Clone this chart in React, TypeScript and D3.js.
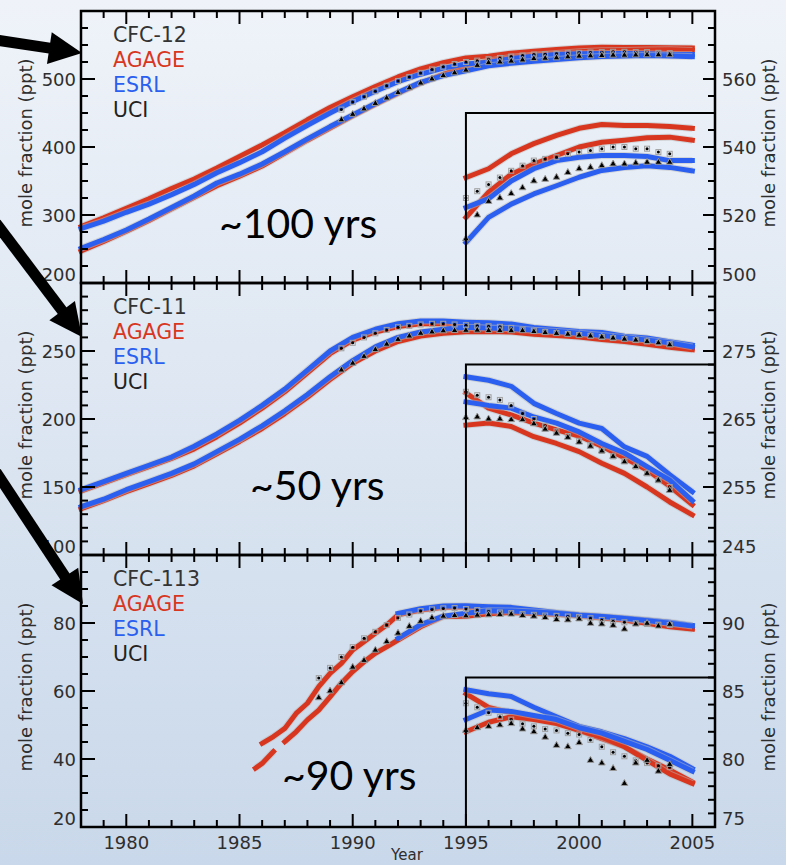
import React from "react";
import * as d3 from "d3";

// ---------------- DATA ----------------
const compoundNames = ["CFC-12", "CFC-11", "CFC-113"];
const networkNames = ["AGAGE", "ESRL", "UCI"];
const lifetimeLabels = ["~100 yrs", "~50 yrs", "~90 yrs"];
const xTickLabels = [1980, 1985, 1990, 1995, 2000, 2005];

// CFC-12 (ppt), AGAGE / ESRL, northern (NH) and southern (SH) records
const cfc12Years = [1978, 1979, 1980, 1981, 1982, 1983, 1984, 1985, 1986, 1987, 1988, 1989, 1990, 1991, 1992, 1993, 1994, 1995, 1996, 1997, 1998, 1999, 2000, 2001, 2002, 2003, 2004, 2005];
const cfc12AgageNH = [283, 296, 310, 324, 339, 353, 369, 386, 403, 421, 440, 458, 474, 489, 503, 515, 524, 531, 533.6, 538, 541, 543.4, 545.5, 546.6, 546.3, 546.3, 546, 545.5];
const cfc12AgageSH = [247, 261, 276, 292, 309, 326, 343, 357, 372, 391, 410, 428, 446, 463, 479, 494, 507, 519.3, 526.7, 532, 535, 537.5, 540, 541.4, 542, 542.7, 542.9, 542];
const cfc12EsrlNH = [280, 291, 304, 316, 330, 345, 362, 377, 393, 413, 432, 450, 467, 482, 496, 507, 516, 522.2, 524.8, 530, 533.6, 536, 537, 537.5, 537.5, 537.2, 536, 536];
const cfc12EsrlSH = [251, 264, 278, 294, 311, 328, 347, 360, 375, 393, 412, 430, 447, 464, 480, 495, 505, 511.9, 519.3, 523.2, 526.2, 528.6, 531.1, 533.1, 534, 534.5, 534, 533];
const cfc12UciYears = [1989.5, 1990, 1990.5, 1991, 1991.5, 1992, 1992.5, 1993, 1993.5, 1994, 1994.5, 1995, 1995.5, 1996, 1996.5, 1997, 1997.5, 1998, 1998.5, 1999, 1999.5, 2000, 2000.5, 2001, 2001.5, 2002, 2002.5, 2003, 2003.5, 2004];
const cfc12UciNH = [455, 466, 474, 482, 490, 497, 503, 509, 514, 518, 522, 525, 527, 529, 531, 533, 534.5, 536, 536.5, 537, 538, 538.5, 539, 539.5, 540, 540, 539.5, 539.5, 538.5, 538];
const cfc12UciSH = [440, 448, 456, 464, 472, 480, 487, 494, 500, 505, 509, 513, 520, 524, 525, 526.3, 528, 530, 530.5, 531.1, 532.5, 533.6, 534, 534.5, 535, 535, 535.3, 535.5, 535.5, 535.5];

// CFC-11 (ppt)
const cfc11Years = [1978, 1979, 1980, 1981, 1982, 1983, 1984, 1985, 1986, 1987, 1988, 1989, 1990, 1991, 1992, 1993, 1994, 1995, 1996, 1997, 1998, 1999, 2000, 2001, 2002, 2003, 2004, 2005];
const cfc11AgageNH = [147, 153, 159, 165, 171, 178, 187, 197, 208, 220, 234, 248, 258, 264, 268, 270, 270, 268.8, 266.6, 265.6, 264.4, 263.4, 262.5, 261, 259.3, 257.5, 255.1, 252.4];
const cfc11AgageSH = [134, 140, 146.5, 152.5, 158.5, 165.5, 174.5, 183.5, 193, 204, 216, 229, 241, 250, 257, 261, 263, 264.1, 264.4, 263.9, 262.4, 261.4, 260.2, 258.5, 257, 255, 252.8, 250.9];
const cfc11EsrlNH = [148, 154, 160, 166, 172, 180, 189, 199, 210, 222, 236, 250, 260, 266, 270, 272, 272, 271.2, 270.7, 269.8, 267.3, 265.8, 264.4, 263.6, 260.9, 259.5, 256.8, 254.3];
const cfc11EsrlSH = [135.5, 141, 148, 154, 160, 167, 176, 185, 195, 206, 218, 231, 243, 253, 260, 264, 266, 267.5, 267, 266.6, 265.3, 264.4, 263.1, 261.4, 260, 258, 256, 253];
const cfc11UciYears = [1989.5, 1990, 1990.5, 1991, 1991.5, 1992, 1992.5, 1993, 1993.5, 1994, 1994.5, 1995, 1995.5, 1996, 1996.5, 1997, 1997.5, 1998, 1998.5, 1999, 1999.5, 2000, 2000.5, 2001, 2001.5, 2002, 2002.5, 2003, 2003.5, 2004];
const cfc11UciNH = [252, 256, 260, 263, 265.5, 267.5, 268.5, 269.5, 270, 270, 269.5, 269, 268.5, 268.2, 267.8, 267, 265.8, 265, 264, 263.2, 262.5, 261.8, 261.2, 260.3, 259.5, 258.8, 258, 257, 256, 255];
const cfc11UciSH = [236, 241, 246, 251, 255, 258.5, 261, 263, 264, 264.8, 265, 265.2, 265.3, 265, 265, 264.9, 264.9, 264.3, 263.5, 262.9, 262.3, 261.6, 261, 260.3, 259.5, 258.7, 258, 257, 256, 254.5];

// CFC-113 (ppt)
const cfc113Years = [1985.7, 1986, 1986.5, 1986.75, 1987, 1987.5, 1988, 1988.5, 1989, 1989.5, 1990, 1990.5, 1991, 1991.5, 1992, 1993, 1994, 1995, 1996, 1997, 1998, 1999, 2000, 2001, 2002, 2003, 2004, 2005];
const cfc113AgageNH = [null, 44.6, 46.6, 47.8, 49, 53.4, 56.4, 61.3, 65.2, 68.1, 72.1, 74.5, 77, 79.4, 82.4, 83.8, 84.6, 84.8, 83.8, 83.4, 83.1, 82.7, 82.1, 81.5, 80.9, 80, 79.2, 78.3];
const cfc113AgageSH = [37.3, 38.7, 42.2, null, 45.1, 48, 51.5, 54.4, 58.3, 62.3, 65.7, 68.6, 71.1, 73, 75, 78.9, 81.9, 82, 82.7, 83.1, 82.9, 82.6, 82.1, 81.6, 80.9, 79.9, 78.9, 78.2];
const cfc113EsrlNH = [null, null, null, null, null, null, null, null, null, null, null, null, null, null, 82.8, 84.2, 85, 85.1, 84.8, 84.6, 83.8, 83.1, 82.4, 82, 81.5, 80.9, 80.2, 79.3];
const cfc113EsrlSH = [null, null, null, null, null, null, null, null, null, null, null, null, null, null, 75.5, 79.5, 82, 82.9, 83.6, 83.5, 83.2, 82.9, 82.3, 81.9, 81.3, 80.7, 79.9, 79.1];
const cfc113UciYears = [1988.5, 1989, 1989.5, 1990, 1990.5, 1991, 1991.5, 1992, 1992.5, 1993, 1993.5, 1994, 1994.5, 1995, 1995.5, 1996, 1996.5, 1997, 1997.5, 1998, 1998.5, 1999, 1999.5, 2000, 2000.5, 2001, 2001.5, 2002, 2002.5, 2003, 2003.5, 2004];
const cfc113UciNH = [63.8, 66.8, 70, 72.9, 75.5, 77.4, 79.4, 81.5, 82.5, 83.5, 84, 84.3, 84.4, 84.1, 83.8, 83.4, 83.1, 82.9, 82.6, 82.4, 82.2, 82.1, 81.9, 81.8, 81.4, 80.9, 80.5, 80.2, 79.9, 79.7, 79.5, 79.4];
const cfc113UciSH = [58, 60, 62.4, 67, 69, 72, 74.5, 77, 79, 80.5, 81.5, 82, 82.2, 82.1, 82.3, 82.4, 82.5, 82.6, 82.2, 82, 81.6, 81, 80.9, 81.2, 79.9, 79.7, 79.3, 78.2, 79.7, 79.9, 79.1, 79.6];

// axis ticks
const cfc12LeftTicks = [200, 300, 400, 500];
const cfc12RightTicks = [500, 520, 540, 560];
const cfc11LeftTicks = [100, 150, 200, 250];
const cfc11RightTicks = [245, 255, 265, 275];
const cfc113LeftTicks = [20, 40, 60, 80];
const cfc113RightTicks = [75, 80, 85, 90];

// ---------------- STYLE / LAYOUT ----------------
const W = 786;
const H = 865;
const X0 = 81;
const X1 = 715;
const RED = "#d8361f";
const BLUE = "#2b5ff0";
const TXT = "#2e2e2e";
const FONT = "'DejaVu Sans', Verdana, sans-serif";
const INSET_START = 1995;

const x = d3.scaleLinear().domain([1978, 2006]).range([X0, X1]);

const panels = [
  {
    name: compoundNames[0], life: lifetimeLabels[0], lifePos: [219, 238],
    top: 11, bottom: 283, left: [200, 600], right: [500, 580],
    leftTicks: cfc12LeftTicks, leftMinor: 25, rightTicks: cfc12RightTicks, rightMinor: 5, insetTop: 550,
    years: cfc12Years, agNH: cfc12AgageNH, agSH: cfc12AgageSH, esNH: cfc12EsrlNH, esSH: cfc12EsrlSH,
    uYears: cfc12UciYears, uNH: cfc12UciNH, uSH: cfc12UciSH,
  },
  {
    name: compoundNames[1], life: lifetimeLabels[1], lifePos: [250, 500],
    top: 283, bottom: 555, left: [100, 300], right: [245, 285],
    leftTicks: cfc11LeftTicks, leftMinor: 10, rightTicks: cfc11RightTicks, rightMinor: 2, insetTop: 273,
    years: cfc11Years, agNH: cfc11AgageNH, agSH: cfc11AgageSH, esNH: cfc11EsrlNH, esSH: cfc11EsrlSH,
    uYears: cfc11UciYears, uNH: cfc11UciNH, uSH: cfc11UciSH,
  },
  {
    name: compoundNames[2], life: lifetimeLabels[2], lifePos: [282, 790],
    top: 555, bottom: 827, left: [20, 100], right: [75, 95],
    leftTicks: cfc113LeftTicks, leftMinor: 5, rightTicks: cfc113RightTicks, rightMinor: 1, insetTop: 86,
    years: cfc113Years, agNH: cfc113AgageNH, agSH: cfc113AgageSH, esNH: cfc113EsrlNH, esSH: cfc113EsrlSH,
    uYears: cfc113UciYears, uNH: cfc113UciNH, uSH: cfc113UciSH,
  },
];

type Pt = { t: number; v: number | null };

function zip(years: number[], vals: (number | null)[], fromYear?: number): Pt[] {
  return years
    .map((t, i) => ({ t, v: vals[i] }))
    .filter((d) => (fromYear === undefined ? true : d.t >= fromYear - 1e-9));
}

function Series({ pts, y, color }: { pts: Pt[]; y: d3.ScaleLinear<number, number>; color: string }) {
  const line = d3
    .line<Pt>()
    .defined((d) => d.v !== null && d.v !== undefined)
    .x((d) => x(d.t))
    .y((d) => y(d.v as number));
  return (
    <g>
      <path d={line(pts) || ""} fill="none" stroke="#b9b9b9" strokeOpacity={0.5} strokeWidth={7} strokeLinejoin="round" />
      <path d={line(pts) || ""} fill="none" stroke={color} strokeWidth={5} strokeLinejoin="round" strokeLinecap="square" />
    </g>
  );
}

function Uci({ pts, y, kind }: { pts: Pt[]; y: d3.ScaleLinear<number, number>; kind: "dot" | "tri" }) {
  const tri = d3.symbol().type(d3.symbolTriangle).size(20)() || "";
  return (
    <g>
      {pts.map((d, i) => {
        const cx = x(d.t);
        const cy = y(d.v as number);
        return kind === "tri" ? (
          <path key={i} d={tri} transform={`translate(${cx},${cy})`} fill="#000" stroke="#9a9a9a" strokeWidth={1} />
        ) : (
          <g key={i}>
            <rect x={cx - 2.5} y={cy - 2.5} width={5} height={5} fill="none" stroke="#a0a0a0" strokeWidth={1} />
            <circle cx={cx} cy={cy} r={1.5} fill="#000" />
          </g>
        );
      })}
    </g>
  );
}

function Panel({ p }: { p: (typeof panels)[number] }) {
  const yL = d3.scaleLinear().domain(p.left).range([p.bottom, p.top]);
  const yR = d3.scaleLinear().domain(p.right).range([p.bottom, p.top]);
  const leftMinor = d3.range(p.left[0], p.left[1] + 1e-6, p.leftMinor);
  const rightMinor = d3.range(p.right[0], p.right[1] + 1e-6, p.rightMinor);
  const yearTicks = d3.range(1979, 2006, 1);
  const cy = (p.top + p.bottom) / 2 - 4;

  const mains = [
    { vals: p.agNH, c: RED }, { vals: p.agSH, c: RED },
    { vals: p.esNH, c: BLUE }, { vals: p.esSH, c: BLUE },
  ];

  return (
    <g>
      {/* main series, left axis */}
      {mains.map((m, i) => (
        <Series key={"m" + i} pts={zip(p.years, m.vals)} y={yL} color={m.c} />
      ))}
      <Uci pts={zip(p.uYears, p.uNH)} y={yL} kind="dot" />
      <Uci pts={zip(p.uYears, p.uSH)} y={yL} kind="tri" />

      {/* inset series, right axis */}
      {mains.map((m, i) => (
        <Series key={"i" + i} pts={zip(p.years, m.vals, INSET_START)} y={yR} color={m.c} />
      ))}
      <Uci pts={zip(p.uYears, p.uNH, INSET_START)} y={yR} kind="dot" />
      <Uci pts={zip(p.uYears, p.uSH, INSET_START)} y={yR} kind="tri" />

      {/* inset frame */}
      <path
        d={`M${x(INSET_START)},${p.bottom} V${yR(p.insetTop)} H${X1}`}
        fill="none"
        stroke="#000"
        strokeWidth={2}
      />

      {/* left ticks */}
      {leftMinor.map((v) => {
        const major = p.leftTicks.includes(v);
        return <line key={"lt" + v} x1={X0} x2={X0 + (major ? 14 : 7)} y1={yL(v)} y2={yL(v)} stroke="#000" strokeWidth={2} />;
      })}
      {p.leftTicks.map((v, i) => (
        <text key={"ll" + v} x={76} y={yL(v) - (i === 0 ? 9 : 0)} textAnchor="end" dominantBaseline="central" fontFamily={FONT} fontSize={18} fill={TXT}>
          {v}
        </text>
      ))}
      {/* right ticks */}
      {rightMinor.map((v) => {
        const major = p.rightTicks.includes(v);
        return <line key={"rt" + v} x1={X1} x2={X1 - (major ? 12 : 7)} y1={yR(v)} y2={yR(v)} stroke="#000" strokeWidth={2} />;
      })}
      {p.rightTicks.map((v, i) => (
        <text key={"rl" + v} x={722} y={yR(v) - (i === 0 ? 9 : 0)} textAnchor="start" dominantBaseline="central" fontFamily={FONT} fontSize={18} fill={TXT}>
          {v}
        </text>
      ))}
      {/* year ticks, top and bottom */}
      {yearTicks.map((t) => {
        const major = t % 5 === 0;
        const len = major ? 13 : 7;
        return (
          <g key={"yt" + t}>
            <line x1={x(t)} x2={x(t)} y1={p.top} y2={p.top + len} stroke="#000" strokeWidth={2} />
            <line x1={x(t)} x2={x(t)} y1={p.bottom} y2={p.bottom - len} stroke="#000" strokeWidth={2} />
          </g>
        );
      })}

      {/* frame */}
      <rect x={X0} y={p.top} width={X1 - X0} height={p.bottom - p.top} fill="none" stroke="#000" strokeWidth={2.5} />

      {/* legend */}
      <text x={113} y={p.top + 30.5} fontFamily={FONT} fontSize={20.5} fill="#333">{p.name}</text>
      <text x={113} y={p.top + 55.5} fontFamily={FONT} fontSize={20.5} fill={RED}>{networkNames[0]}</text>
      <text x={113} y={p.top + 80.5} fontFamily={FONT} fontSize={20.5} fill={BLUE}>{networkNames[1]}</text>
      <text x={113} y={p.top + 105.5} fontFamily={FONT} fontSize={20.5} fill="#222">{networkNames[2]}</text>

      {/* axis titles */}
      <text x={26} y={cy} transform={`rotate(-90,26,${cy})`} textAnchor="middle" dominantBaseline="central" fontFamily={FONT} fontSize={17} fill={TXT} textLength={169} lengthAdjust="spacingAndGlyphs">
        mole fraction (ppt)
      </text>
      <text x={769} y={cy} transform={`rotate(-90,769,${cy})`} textAnchor="middle" dominantBaseline="central" fontFamily={FONT} fontSize={17} fill={TXT} textLength={169} lengthAdjust="spacingAndGlyphs">
        mole fraction (ppt)
      </text>

      {/* lifetime annotation */}
      <text x={p.lifePos[0]} y={p.lifePos[1]} fontFamily="Lato, 'Open Sans', sans-serif" fontSize={41} fill="#000">
        {p.life}
      </text>
    </g>
  );
}

function Arrow({ from, tip }: { from: [number, number]; tip: [number, number] }) {
  const dx = tip[0] - from[0];
  const dy = tip[1] - from[1];
  const L = Math.hypot(dx, dy);
  const ux = dx / L;
  const uy = dy / L;
  const headLen = 33;
  const half = 16;
  const bx = tip[0] - ux * headLen;
  const by = tip[1] - uy * headLen;
  const px = -uy;
  const py = ux;
  return (
    <g>
      <line x1={from[0]} y1={from[1]} x2={bx + ux * 2} y2={by + uy * 2} stroke="#000" strokeWidth={11} />
      <polygon
        points={`${tip[0]},${tip[1]} ${bx + px * half},${by + py * half} ${bx - px * half},${by - py * half}`}
        fill="#000"
      />
    </g>
  );
}

export default function App() {
  return (
    <svg width={W} height={H} style={{ position: "absolute", left: 0, top: 0, display: "block" }}>
      <defs>
        <linearGradient id="bg" x1="0" y1="0" x2="0" y2="1">
          <stop offset="0" stopColor="#eff3f9" />
          <stop offset="1" stopColor="#c9d8ea" />
        </linearGradient>
      </defs>
      <rect x={0} y={0} width={W} height={H} fill="url(#bg)" />
      {panels.map((p) => (
        <Panel key={p.name} p={p} />
      ))}
      {/* x tick labels */}
      {xTickLabels.map((t) => (
        <text key={t} x={x(t)} y={849} textAnchor="middle" fontFamily={FONT} fontSize={18} fill={TXT}>
          {t}
        </text>
      ))}
      <text x={407} y={860} textAnchor="middle" fontFamily={FONT} fontSize={15} fill={TXT}>
        Year
      </text>
      <Arrow from={[-4, 40]} tip={[82, 53]} />
      <Arrow from={[-4, 223]} tip={[82, 337]} />
      <Arrow from={[-4, 472]} tip={[83, 604]} />
    </svg>
  );
}
